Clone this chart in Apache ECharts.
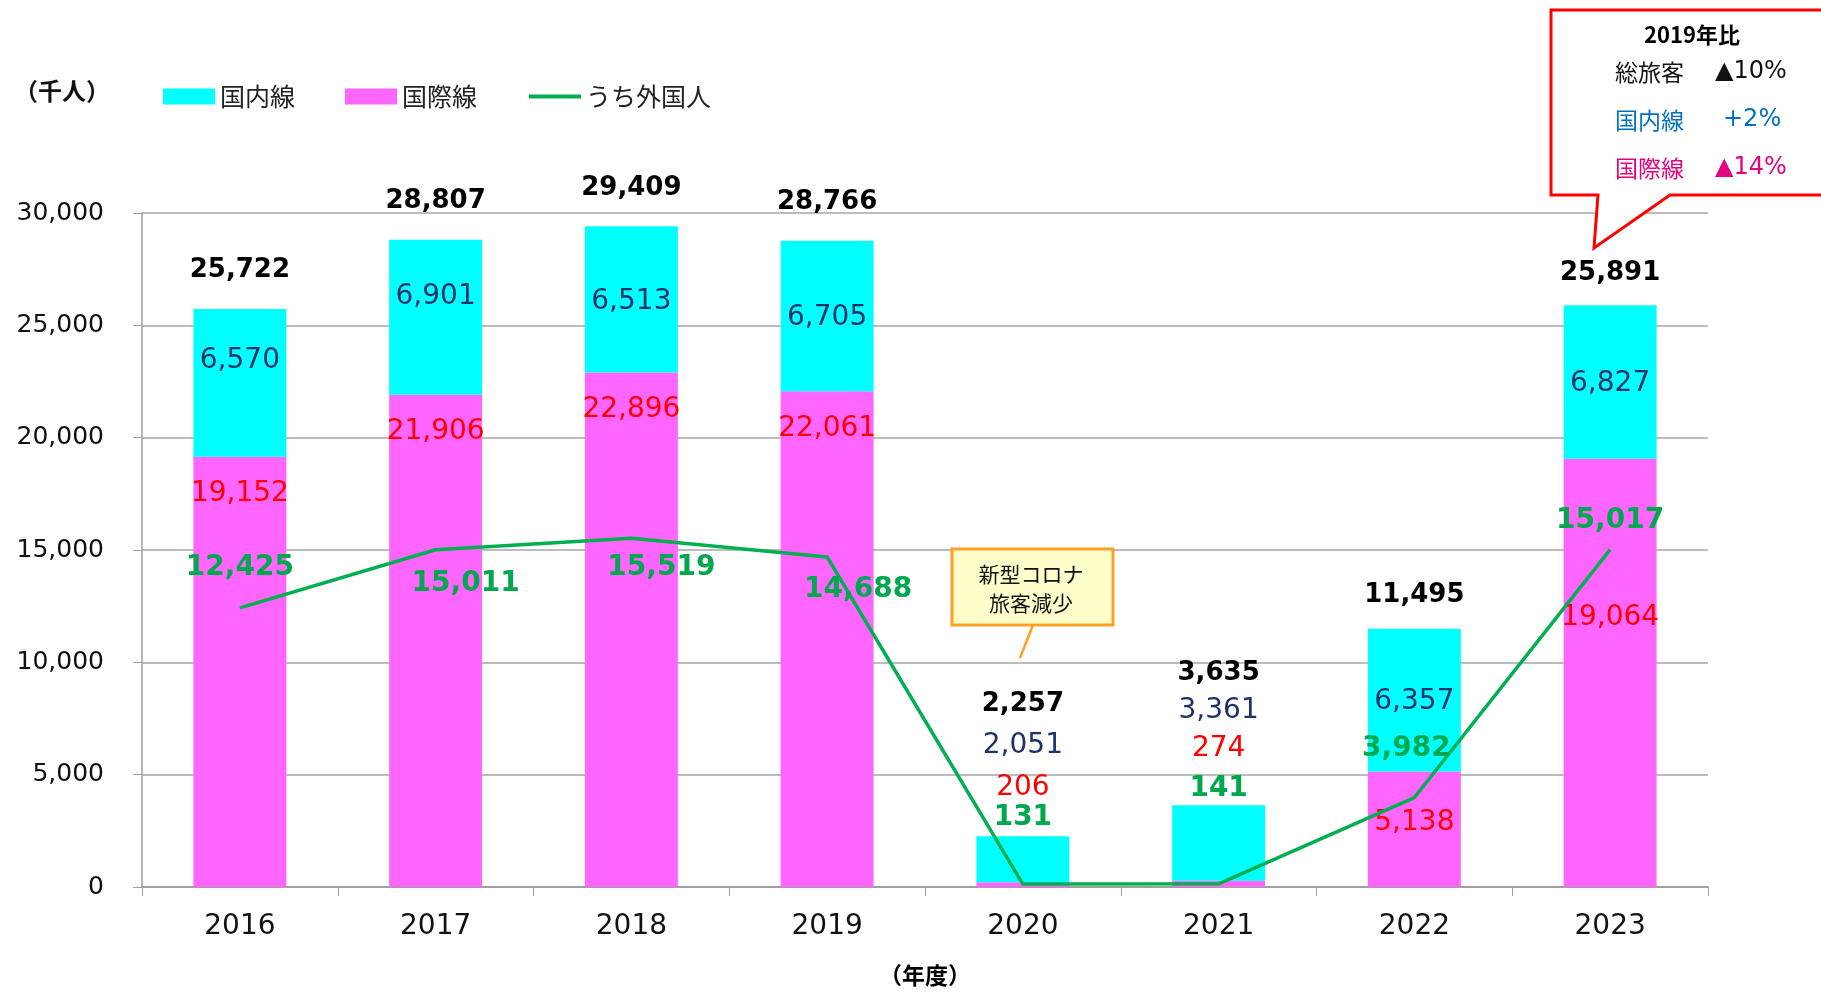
<!DOCTYPE html>
<html>
<head>
<meta charset="utf-8">
<script src="https://cdn.jsdelivr.net/npm/echarts@6/dist/echarts.min.js"></script>
<style>
html,body{margin:0;padding:0;background:#fff;}
#chart{width:1821px;height:992px;}
</style>
</head>
<body>
<div id="chart"></div>
<script>
// 年度
var years = ['2016','2017','2018','2019','2020','2021','2022','2023'];
// 国内線 (千人)
var domestic = [6570, 6901, 6513, 6705, 2051, 3361, 6357, 6827];
// 国際線 (千人)
var international = [19152, 21906, 22896, 22061, 206, 274, 5138, 19064];
// 総旅客 (千人)
var totals = [25722, 28807, 29409, 28766, 2257, 3635, 11495, 25891];
// うち外国人 (千人)
var foreigners = [12425, 15011, 15519, 14688, 131, 141, 3982, 15017];

// label nudges, pixels
var domOff = [[0,-22],[0,-21],[0,2],[0,2],[0,-114],[0,-132],[0,2],[0,2]];
var intlOff = [[0,-178],[0,-209],[0,-220],[0,-210],[0,-97],[0,-135],[0,-7],[0,-55]];
var totOff = [[0,-39],[0,-39],[0,-38],[0,-38],[0,-132],[0,-132],[0,-33],[0,-32]];
var forOff = [[0,-40],[30,34],[30,29],[31,33],[0,-66],[0,-95],[-8,-49],[0,-29]];

var NUM = 'DejaVu Sans, Noto Sans CJK JP, sans-serif';
var JP = 'Noto Sans CJK JP, sans-serif';

function fmt(v){ return v.toLocaleString('en-US'); }
function withOffsets(vals, offs){
  return vals.map(function(v,i){ return {value:v, label:{offset:offs[i]}}; });
}

var chart = echarts.init(document.getElementById('chart'));

var option = {
  animation: false,
  textStyle: {fontFamily: NUM},
  grid: {left:142, right:113, top:213, bottom:102, containLabel:false},
  legend: {
    left: 158, top: 79,
    itemWidth: 52, itemHeight: 16, itemGap: 50,
    textStyle: {fontFamily: JP, fontSize: 25, color:'#222'},
    data: [
      {name:'国内線', icon:'rect'},
      {name:'国際線', icon:'rect'},
      {name:'うち外国人',
        lineStyle:{width:4, color:'#00B050'},
        itemStyle:{color:'rgba(0,0,0,0)', borderColor:'rgba(0,0,0,0)', borderWidth:0, opacity:0}}
    ]
  },
  xAxis: {
    type: 'category',
    data: years,
    name: '（年度）',
    nameLocation: 'middle',
    nameGap: 77,
    nameTextStyle: {fontFamily: JP, fontSize: 23, fontWeight:'bold', color:'#000'},
    axisLine: {lineStyle:{color:'#A0A0A0', width:2}},
    axisTick: {show:true, length:9, lineStyle:{color:'#A0A0A0'}},
    axisLabel: {fontSize:28, color:'#111', margin:26}
  },
  yAxis: {
    type: 'value',
    min: 0, max: 30000, interval: 5000,
    axisLine: {show:true, lineStyle:{color:'#A0A0A0', width:1.5}},
    axisTick: {show:true, length:9, lineStyle:{color:'#A0A0A0'}},
    splitLine: {lineStyle:{color:'#A6A6A6', width:1.5}},
    axisLabel: {fontSize:25, color:'#111', margin:38, formatter:function(v){return fmt(v);}}
  },
  series: [
    {
      name: '国際線', type: 'bar', stack: 'pax', barWidth: '47.5%',
      itemStyle: {color:'#FF66FF'},
      label: {show:true, position:'inside', fontSize:28, color:'#FF0000', textBorderWidth:0,
        formatter:function(p){return fmt(p.value);}},
      data: withOffsets(international, intlOff)
    },
    {
      name: '国内線', type: 'bar', stack: 'pax', barWidth: '47.5%',
      itemStyle: {color:'#00FFFF'},
      label: {show:true, position:'inside', fontSize:28, color:'#1F3268', textBorderWidth:0,
        formatter:function(p){return fmt(p.value);}},
      data: withOffsets(domestic, domOff)
    },
    {
      name: 'うち外国人', type: 'line', symbol: 'none', z: 5,
      lineStyle: {color:'#00B050', width:3.5},
      itemStyle: {color:'#00B050'},
      data: foreigners
    },
    {
      name: 'total', type: 'scatter', symbolSize: 1, z: 6,
      itemStyle: {color:'#000', opacity:0},
      label: {show:true, position:'inside', fontSize:26, fontWeight:'bold', color:'#000',
        textBorderWidth:0, opacity:1,
        formatter:function(p){return fmt(p.value[1]);}},
      data: totals.map(function(v,i){ return {value:[i,v], label:{offset:totOff[i]}}; })
    },
    {
      name: 'foreignLabel', type: 'scatter', symbolSize: 1, z: 7,
      itemStyle: {color:'#00B050', opacity:0},
      label: {show:true, position:'inside', fontSize:28, fontWeight:'bold', color:'#00A84D',
        textBorderWidth:0, opacity:1,
        formatter:function(p){return fmt(p.value[1]);}},
      data: foreigners.map(function(v,i){ return {value:[i,v], label:{offset:forOff[i]}}; })
    }
  ],
  graphic: [
    {type:'text', left:14, top:79, style:{text:'（千人）', font:'bold 24px Noto Sans CJK JP', fill:'#111'}},
    // callout
    {type:'polygon', z:10, shape:{points:[[1551,10],[1832,10],[1832,195],[1670,195],[1594,248],[1598,195],[1551,195]]},
      style:{fill:'#fff', stroke:'#FF0000', lineWidth:3}},
    {type:'text', z:11, x:1692, y:35, style:{text:'2019年比', font:'bold 22px Noto Sans CJK JP', fill:'#000', align:'center', verticalAlign:'middle'}},
    {type:'text', z:11, x:1615, y:72, style:{text:'総旅客', font:'23px Noto Sans CJK JP', fill:'#111', verticalAlign:'middle'}},
    {type:'text', z:11, x:1715, y:72, style:{text:'▲10%', font:'24px DejaVu Sans', fill:'#111', verticalAlign:'middle'}},
    {type:'text', z:11, x:1615, y:120, style:{text:'国内線', font:'23px Noto Sans CJK JP', fill:'#0070C0', verticalAlign:'middle'}},
    {type:'text', z:11, x:1723, y:120, style:{text:'+2%', font:'24px DejaVu Sans', fill:'#0070C0', verticalAlign:'middle'}},
    {type:'text', z:11, x:1615, y:168, style:{text:'国際線', font:'23px Noto Sans CJK JP', fill:'#E4007F', verticalAlign:'middle'}},
    {type:'text', z:11, x:1715, y:168, style:{text:'▲14%', font:'24px DejaVu Sans', fill:'#E4007F', verticalAlign:'middle'}},
    // covid note
    {type:'line', z:10, shape:{x1:1033, y1:625, x2:1020, y2:658}, style:{stroke:'#FFA020', lineWidth:2.5}},
    {type:'rect', z:10, shape:{x:952, y:549, width:161, height:76}, style:{fill:'#FFFFCC', stroke:'#FFA020', lineWidth:3}},
    {type:'text', z:11, x:1031, y:574, style:{text:'新型コロナ', font:'21px Noto Sans CJK JP', fill:'#111', align:'center', verticalAlign:'middle'}},
    {type:'text', z:11, x:1031, y:603, style:{text:'旅客減少', font:'21px Noto Sans CJK JP', fill:'#111', align:'center', verticalAlign:'middle'}}
  ]
};

chart.setOption(option);
</script>
</body>
</html>
